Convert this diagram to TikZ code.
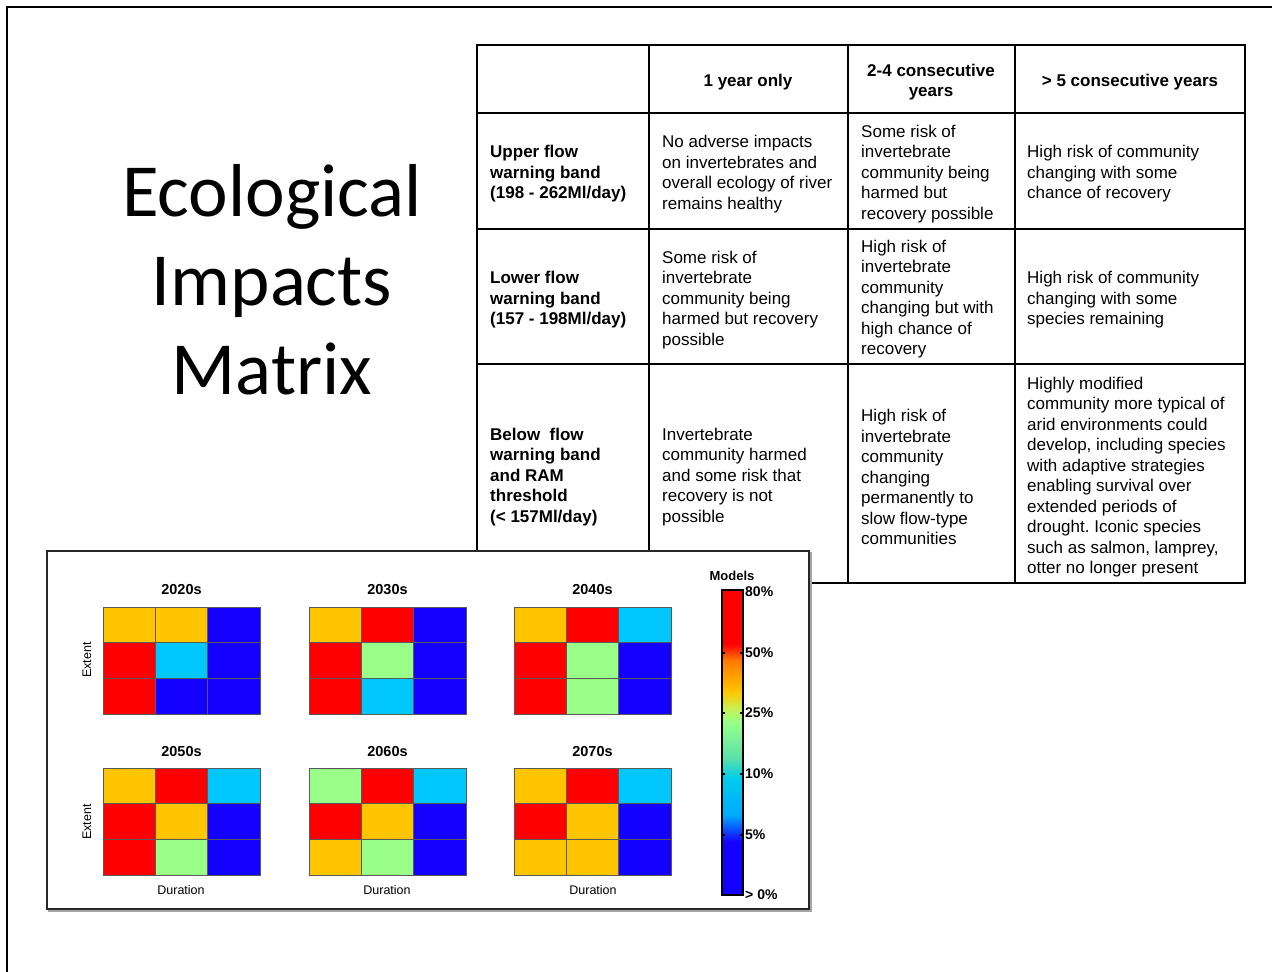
\documentclass[tikz,border=0pt]{standalone}
\usepackage{fontspec}
\setmainfont{Liberation Sans}
\newfontfamily\titlefont{Carlito}
\frenchspacing
\definecolor{hmY}{RGB}{255,198,0}
\definecolor{hmR}{RGB}{255,0,0}
\definecolor{hmB}{RGB}{20,0,255}
\definecolor{hmC}{RGB}{0,200,255}
\definecolor{hmG}{RGB}{153,255,136}
\tikzset{
  frameline/.style={line width=2pt, black},
  bigtitle/.style={font=\titlefont\fontsize{75}{90}\selectfont, anchor=base, inner sep=0pt},
  tabline/.style={line width=1.6pt, black},
  cell/.style={font=\fontsize{17}{20.5}\selectfont, align=left, anchor=west, inner sep=0pt},
  bcell/.style={cell, font=\bfseries\fontsize{17}{20.5}\selectfont},
  hcell/.style={bcell, align=center, anchor=center},
  hmtitle/.style={font=\bfseries\fontsize{14.5}{16}\selectfont, inner sep=0pt},
  hmaxis/.style={font=\fontsize{12.5}{14}\selectfont, inner sep=0pt},
  hmcell/.style={draw=black!65, line width=0.6pt},
  cblabel/.style={font=\bfseries\fontsize{14}{16}\selectfont, anchor=west, inner sep=0pt},
  cbtick/.style={line width=1.2pt, black}
}
\newcommand\hmapblock[4]{%
  \node[hmtitle] (title#3) at (#1+78.5,#2-17) {#3};
  \foreach \c [count=\i from 0] in {#4} {
    \pgfmathtruncatemacro\cc{mod(\i,3)}
    \pgfmathtruncatemacro\rr{int(\i/3)}
    \fill[fill=hm\c, hmcell] ({#1+\cc*52.3},{#2+\rr*35.7}) rectangle ++(52.3,35.7);
  }
}
\begin{document}
\begin{tikzpicture}[x=1pt,y=-1pt]
\useasboundingbox (0,0) rectangle (1272,972);
\fill[white] (0,0) rectangle (1272,972);
% slide frame
\draw[frameline] (1272,7) -- (7,7) -- (7,972);
% title
\node[bigtitle] (t1) at (272,216) {Ecological};
\node[bigtitle] (t2) at (272,305) {Impacts};
\node[bigtitle] (t3) at (272,394) {Matrix};
% table grid
\draw[tabline] (477,45) rectangle (1245,583);
\foreach \yy in {113,229,364} \draw[tabline] (477,\yy) -- (1245,\yy);
\foreach \xx in {649,848,1015} \draw[tabline] (\xx,45) -- (\xx,583);
% header
\node[hcell] (h1) at (748,82) {1 year only};
\node[hcell] (h2) at (931,82) {2-4 consecutive\\years};
\node[hcell] (h3) at (1130,82) {> 5 consecutive years};
% row labels
\node[bcell] (r1) at (490,174) {Upper flow\\warning band\\(198 - 262Ml/day)};
\node[bcell] (r2) at (490,300) {Lower flow\\warning band\\(157 - 198Ml/day)};
\node[bcell] (r3) at (490,477) {Below\ \ flow\\warning band\\and RAM\\threshold\\(< 157Ml/day)};
% column 2
\node[cell] (c21) at (662,174) {No adverse impacts\\on invertebrates and\\overall ecology of river\\remains healthy};
\node[cell] (c22) at (662,300) {Some risk of\\invertebrate\\community being\\harmed but recovery\\possible};
\node[cell] (c23) at (662,477) {Invertebrate\\community harmed\\and some risk that\\recovery is not\\possible};
% column 3
\node[cell] (c31) at (861,174) {Some risk of\\invertebrate\\community being\\harmed but\\recovery possible};
\node[cell] (c32) at (861,299) {High risk of\\invertebrate\\community\\changing but with\\high chance of\\recovery};
\node[cell] (c33) at (861,477) {High risk of\\invertebrate\\community\\changing\\permanently to\\slow flow-type\\communities};
% column 4
\node[cell] (c41) at (1027,174) {High risk of community\\changing with some\\chance of recovery};
\node[cell] (c42) at (1027,300) {High risk of community\\changing with some\\species remaining};
\node[cell] (c43) at (1027,477) {Highly modified\\community more typical of\\arid environments could\\develop, including species\\with adaptive strategies\\enabling survival over\\extended periods of\\drought. Iconic species\\such as salmon, lamprey,\\otter no longer present};
% figure panel
\draw[black!35, line width=1.5pt] (49,553) rectangle (811,911);
\draw[fill=white, draw=black!85, line width=1.5pt] (47,551) rectangle (809,909);
% heat maps
\hmapblock{103}{607}{2020s}{Y,Y,B,R,C,B,R,B,B}
\hmapblock{309}{607}{2030s}{Y,R,B,R,G,B,R,C,B}
\hmapblock{514}{607}{2040s}{Y,R,C,R,G,B,R,G,B}
\hmapblock{103}{768}{2050s}{Y,R,C,R,Y,B,R,G,B}
\hmapblock{309}{768}{2060s}{G,R,C,R,Y,B,Y,G,B}
\hmapblock{514}{768}{2070s}{Y,R,C,R,Y,B,Y,Y,B}
\node[hmaxis] (d1) at (181,890) {Duration};
\node[hmaxis] (d2) at (387,890) {Duration};
\node[hmaxis] (d3) at (593,890) {Duration};
\node[hmaxis, rotate=90] (e1) at (87,660) {Extent};
\node[hmaxis, rotate=90] (e2) at (87,822) {Extent};
% colour bar
\fill[hmR] (722,590) rectangle (743,644);
\shade[top color=hmR, bottom color={rgb,255:red,255;green,120;blue,0}] (722,644) rectangle (743,660);
\shade[top color={rgb,255:red,255;green,120;blue,0}, bottom color=hmY] (722,660) rectangle (743,692);
\shade[top color=hmY, bottom color={rgb,255:red,200;green,240;blue,80}] (722,692) rectangle (743,708);
\shade[top color={rgb,255:red,200;green,240;blue,80}, bottom color=hmG] (722,708) rectangle (743,722);
\shade[top color=hmG, bottom color={rgb,255:red,90;green,225;blue,170}] (722,722) rectangle (743,758);
\shade[top color={rgb,255:red,90;green,225;blue,170}, bottom color={rgb,255:red,0;green,205;blue,235}] (722,758) rectangle (743,778);
\shade[top color={rgb,255:red,0;green,205;blue,235}, bottom color={rgb,255:red,0;green,170;blue,255}] (722,778) rectangle (743,815);
\shade[top color={rgb,255:red,0;green,170;blue,255}, bottom color=hmB] (722,815) rectangle (743,842);
\fill[hmB] (722,842) rectangle (743,895);
\draw[black, line width=1.2pt] (722,590) rectangle (743,895);
\foreach \ty in {653,713,774,835} {
  \draw[cbtick] (722,\ty) -- (725,\ty);
  \draw[cbtick] (740,\ty) -- (743,\ty);
}
\node[font=\bfseries\fontsize{13}{15}\selectfont, inner sep=0pt] (models) at (732,576) {Models};
\node[cblabel] (l80) at (745,592) {80\%};
\node[cblabel] (l50) at (745,653) {50\%};
\node[cblabel] (l25) at (745,713) {25\%};
\node[cblabel] (l10) at (745,774) {10\%};
\node[cblabel] (l5) at (745,835) {5\%};
\node[cblabel] (l0) at (745,895) {> 0\%};
\end{tikzpicture}
\end{document}
